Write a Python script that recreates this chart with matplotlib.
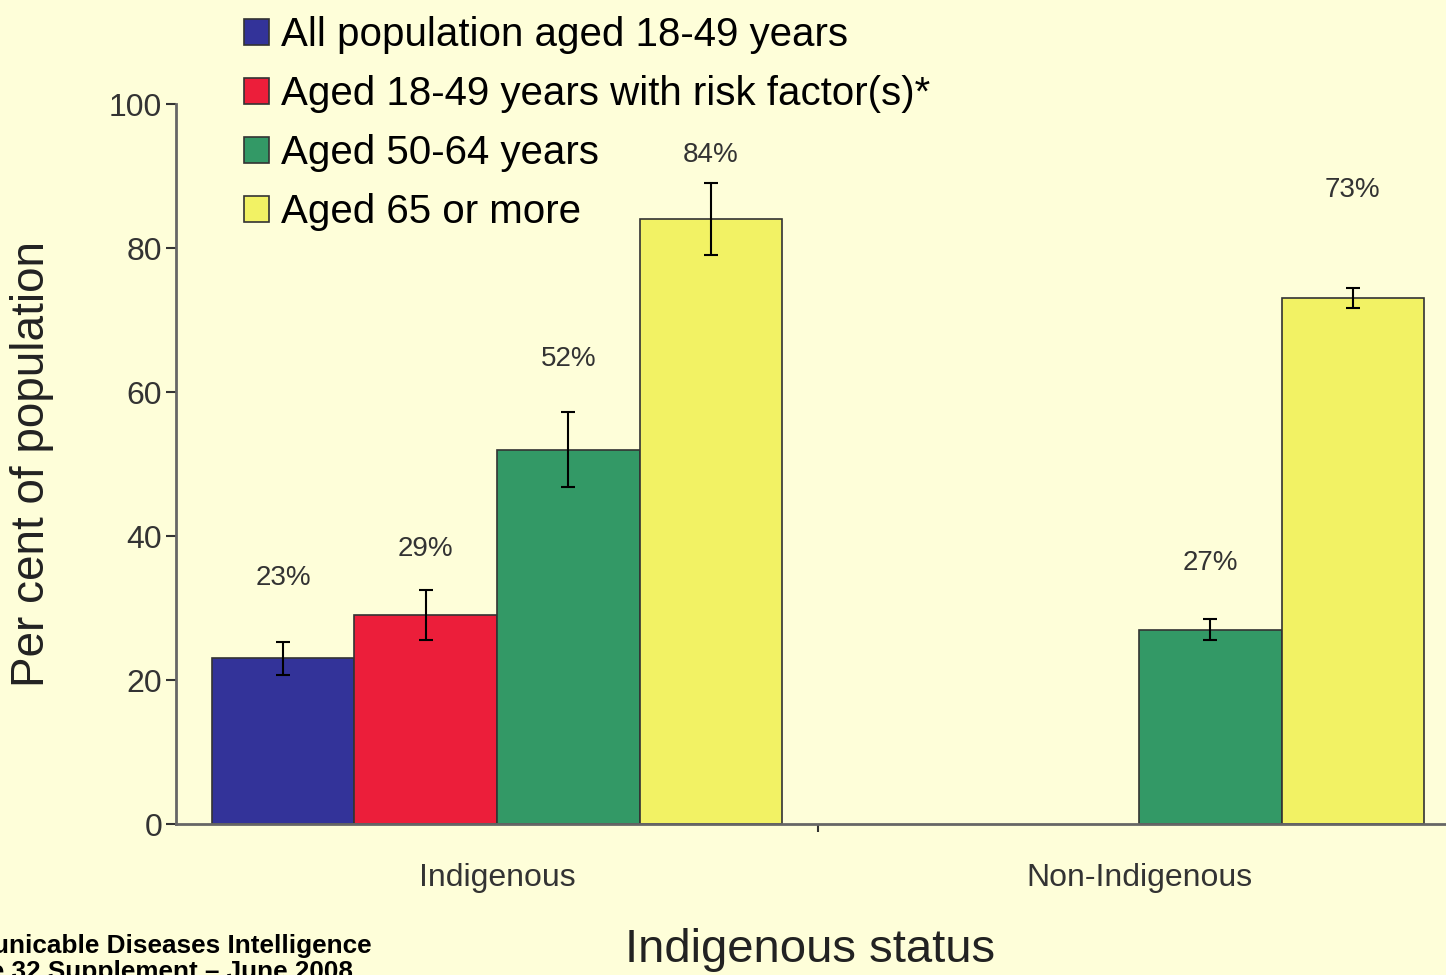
import matplotlib
matplotlib.use("Agg")
import matplotlib.pyplot as plt
import numpy as np

plt.rcParams["font.family"] = ["Liberation Sans", "DejaVu Sans"]

# data
groups = ["Indigenous", "Non-Indigenous"]
series = [
    "All population aged 18-49 years",
    "Aged 18-49 years with risk factor(s)*",
    "Aged 50-64 years",
    "Aged 65 or more",
]
values = [
    [23, None],
    [29, None],
    [52, 27],
    [84, 73],
]
errors = [
    [2.3, None],
    [3.5, None],
    [5.2, 1.5],
    [5.0, 1.4],
]
label_heights = [
    [34.2, None],
    [38.2, None],
    [64.6, 36.3],
    [92.9, 88.0],
]
y_ticks = [0, 20, 40, 60, 80, 100]

colors = ["#333399", "#EC1E3A", "#339966", "#F2F264"]
bg = "#FEFED9"
bar_w = 0.222

fig = plt.figure(figsize=(14.46, 9.75), dpi=100, facecolor=bg)
ax = fig.add_axes([176 / 1446, 1 - 824 / 975, 1284 / 1446, 720 / 975])
ax.set_facecolor(bg)

x = np.arange(len(groups))
handles = []
for i, name in enumerate(series):
    offset = (i - 1.5) * bar_w
    for j in range(len(groups)):
        v = values[i][j]
        if v is None:
            continue
        ax.bar(x[j] + offset, v, width=bar_w, color=colors[i],
               edgecolor="#333333", linewidth=1.2, zorder=2)
        ax.errorbar(x[j] + offset, v, yerr=errors[i][j], fmt="none",
                    ecolor="black", elinewidth=1.5, capsize=5, capthick=1.5,
                    zorder=3)
        ax.text(x[j] + offset, label_heights[i][j], f"{v}%", ha="center",
                va="center", fontsize=20, color="#333333")
    handles.append(plt.Rectangle((0, 0), 1, 1, facecolor=colors[i],
                                 edgecolor="#333333", linewidth=1.2))

ax.set_xlim(-0.5, 1.5)
ax.set_ylim(0, 100)
ax.set_yticks(y_ticks)
ax.tick_params(axis="y", labelsize=23, colors="#333333", length=7,
               width=1.5, pad=3)
ax.set_xticks([0.5])
ax.set_xticklabels([""])
ax.set_xticks(x, minor=True)
ax.set_xticklabels(groups, minor=True)
ax.tick_params(axis="x", which="major", length=6, width=1.5, colors="#333333")
ax.tick_params(axis="x", which="minor", length=0, labelsize=23,
               labelcolor="#333333", pad=28)
for side in ["top", "right"]:
    ax.spines[side].set_visible(False)
for side in ["left", "bottom"]:
    ax.spines[side].set_color("#666666")
    ax.spines[side].set_linewidth(2)

ax.set_ylabel("Per cent of population", fontsize=33, color="#222222")
ax.yaxis.set_label_coords((54 - 176) / 1284, 0.5)
ax.set_xlabel("Indigenous status", fontsize=34, color="#222222")
ax.xaxis.set_label_coords((810 - 176) / 1284, (824 - 928) / 720)

fig.legend(handles, series, loc="upper left",
           bbox_to_anchor=(228 / 1446, 1.0), frameon=False,
           fontsize=29, handlelength=0.62, handleheight=0.62,
           handletextpad=0.3, labelspacing=0.52, borderaxespad=0)

fig.text(-88 / 1446, 1 - 934 / 975,
         "Communicable Diseases Intelligence\nVolume 32 Supplement \u2013 June 2008",
         fontsize=18.8, fontweight="bold", color="black", va="top",
         ha="left", linespacing=1.1)

fig.savefig("out.png", dpi=100, facecolor=bg)
